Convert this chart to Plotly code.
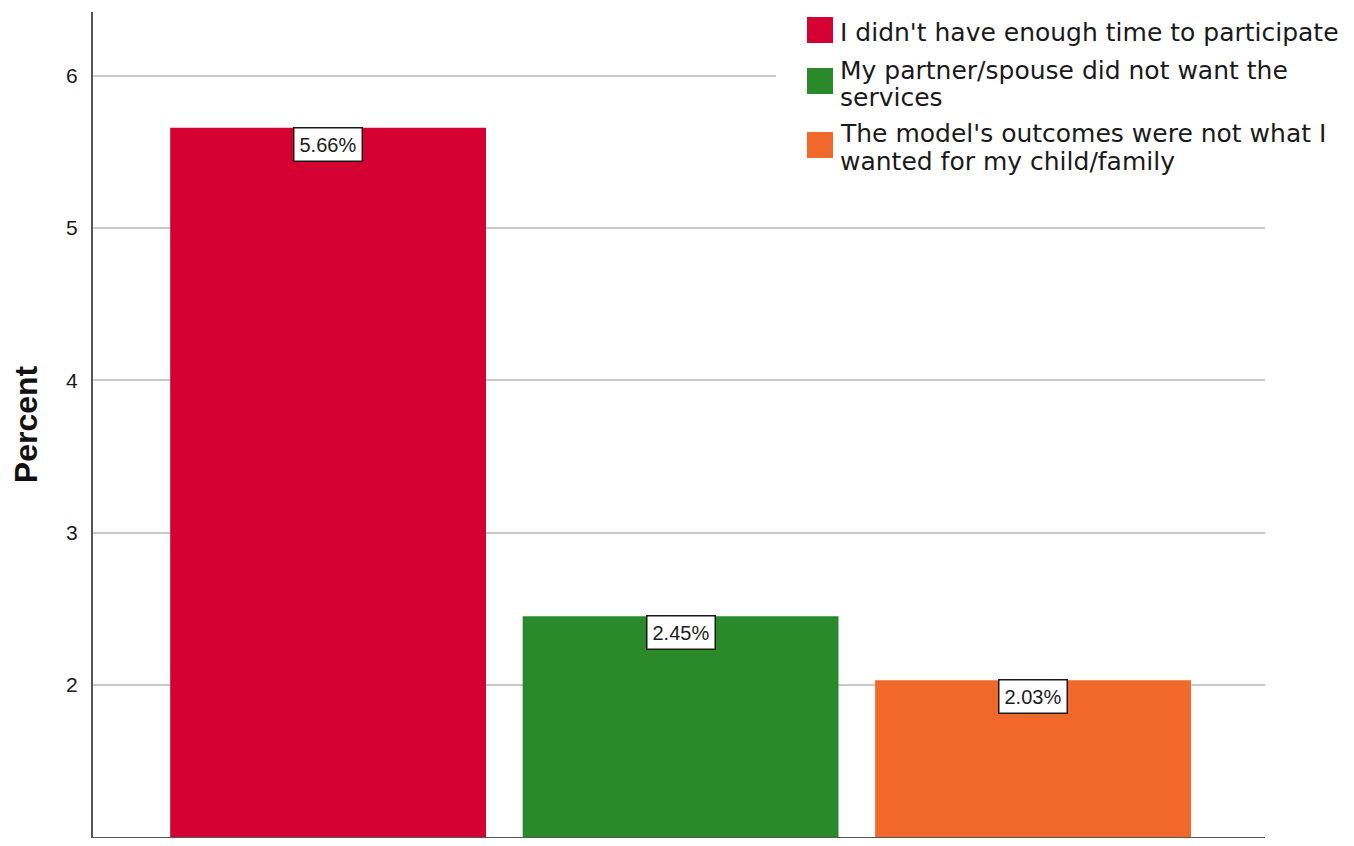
import plotly.graph_objects as go

categories = ["I didn't have enough time to participate",
              "My partner/spouse did not want the<br>services",
              "The model's outcomes were not what I<br>wanted for my child/family"]
values = [5.66, 2.45, 2.03]
labels = ["5.66%", "2.45%", "2.03%"]
colors = ["#D50032", "#2A8A2A", "#F0692A"]
x_pos = [0, 1, 2]
y_ticks = [1, 2, 3, 4, 5, 6]

FONT = "Liberation Sans, Arial, sans-serif"
LFONT = "DejaVu Sans, Verdana, sans-serif"

# page offset (browser body margin) and plot area in page pixels
OFF = 8
PL, PR, PT, PB = 93, 1265, 12, 837
W, H = 1338, 830


def px(xp):
    return (xp - PL) / (PR - PL)


def py(yp):
    return (PB - yp) / (PB - PT)


fig = go.Figure()
for i in range(3):
    fig.add_trace(go.Bar(
        x=[x_pos[i]], y=[values[i] - 1], base=[1], name=categories[i],
        marker=dict(color=colors[i], line=dict(width=0)),
        width=0.896, showlegend=False, hoverinfo="skip"))
    fig.add_annotation(x=x_pos[i], y=values[i], xref="x", yref="y",
                       text=labels[i], showarrow=False, yanchor="top",
                       yshift=1,
                       font=dict(family=FONT, size=20, color="#1a1a1a"),
                       bgcolor="white", bordercolor="#1a1a1a", borderwidth=1.5,
                       borderpad=5)

# manual legend (white panel, swatches, wrapped text lines)
fig.add_shape(type="rect", xref="paper", yref="paper",
              x0=px(776), x1=px(1350), y0=py(186), y1=py(14),
              fillcolor="white", line=dict(width=0), layer="above")
swatch_tops = [17, 68, 132]
line_centers = [[32.5], [70, 97], [133.5, 161]]
for i in range(3):
    fig.add_shape(type="rect", xref="paper", yref="paper",
                  x0=px(807), x1=px(833),
                  y0=py(swatch_tops[i] + 26), y1=py(swatch_tops[i]),
                  fillcolor=colors[i], line=dict(width=0), layer="above")
    for line, yc in zip(categories[i].split("<br>"), line_centers[i]):
        fig.add_annotation(x=px(838), y=py(yc), xref="paper", yref="paper",
                           text=line, showarrow=False, xanchor="left",
                           yanchor="middle",
                           font=dict(family=LFONT, size=25, color="#1a1a1a"))

fig.update_layout(
    width=W, height=H,
    margin=dict(l=PL - OFF, r=OFF + W - PR, t=PT - OFF, b=OFF + H - PB),
    paper_bgcolor="white", plot_bgcolor="white",
    barmode="overlay", showlegend=False,
    font=dict(family=FONT, color="#1a1a1a"),
    xaxis=dict(range=[-0.667, 2.658], showticklabels=False, showgrid=False,
               zeroline=False, showline=True, linecolor="#555", linewidth=2,
               ticks=""),
    yaxis=dict(range=[1, 6.42], tickvals=y_ticks, showgrid=True,
               gridcolor="#C8C8C8", gridwidth=1.5, zeroline=False,
               showline=True, linecolor="#555", linewidth=2, ticks="",
               ticklabelstandoff=9,
               tickfont=dict(family=FONT, size=21, color="#1a1a1a"),
               title=dict(text="<b>Percent</b>", standoff=28,
                          font=dict(family=FONT, size=32, color="#111"))),
)

fig.write_html("out.html")
